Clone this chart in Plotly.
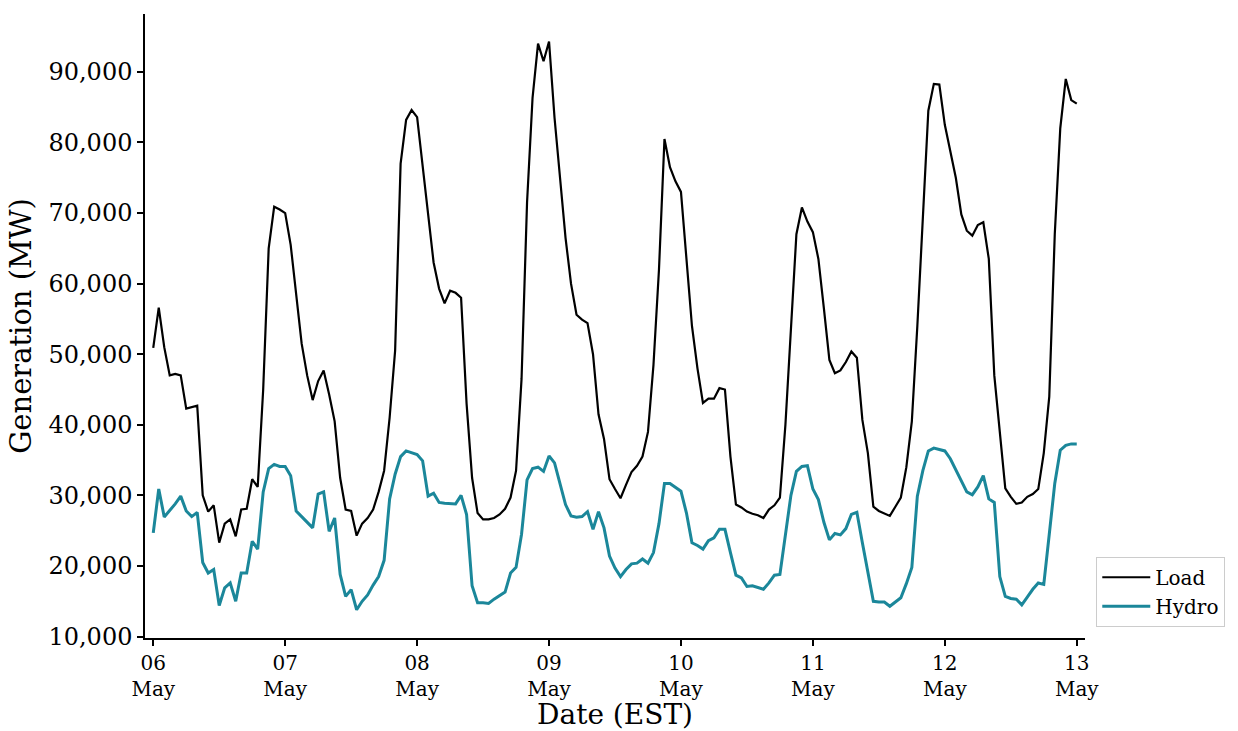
import pandas as pd
import plotly.graph_objects as go

start = "2023-05-06 00:00"
n_hours = 169

load_mw = [
    50900, 56600, 51000, 47000, 47200, 47000, 42300, 42500, 42700, 30000,
    27700, 28600, 23300, 26000, 26600, 24200, 28000, 28100, 32300, 31200,
    45000, 65000, 70900, 70500, 70000, 65500, 58500, 51500, 47000, 43500,
    46200, 47700, 44300, 40500, 32500, 28000, 27800, 24300, 26000, 26800,
    28000, 30500, 33500, 41000, 50500, 77000, 83200, 84600, 83600, 76800,
    70400, 63000, 59300, 57200, 59000, 58700, 58000, 43000, 32500, 27500,
    26600, 26600, 26800, 27300, 28100, 29700, 33500, 46500, 71500, 86300,
    94000, 91500, 94300, 83500, 75000, 66500, 60000, 55600, 54900, 54400,
    50000, 41500, 38000, 32300, 30900, 29600, 31500, 33300, 34200, 35500,
    39000, 48500, 62000, 80500, 76500, 74500, 73000, 63900, 54000, 48000,
    43100, 43700, 43700, 45200, 45000, 35500, 28700, 28300, 27700, 27400,
    27200, 26800, 28000, 28600, 29700, 40000, 54500, 67000, 70800, 68800,
    67300, 63500, 56500, 49200, 47300, 47700, 48900, 50400, 49500, 40700,
    36000, 28400, 27800, 27400, 27100, 28400, 29700, 34000, 40500, 54000,
    68600, 84500, 88300, 88200, 82500, 78800, 75000, 69800, 67500, 66800,
    68300, 68700, 63500, 47000, 38500, 31000, 29800, 28800, 29000, 29800,
    30200, 30900, 36000, 44000, 67000, 82000, 89000, 86000, 85500,
]

hydro_mw = [
    24700, 30900, 26950, 27800, 28800, 29900, 27800, 27000, 27600, 20500,
    19000, 19500, 14400, 16900, 17600, 15000, 19000, 19000, 23500, 22400,
    30500, 33800, 34400, 34100, 34100, 32800, 27800, 27000, 26200, 25400,
    30200, 30500, 24900, 26800, 18800, 15700, 16650, 13800, 15000, 15900,
    17300, 18500, 20800, 29500, 33000, 35500, 36300, 36000, 35800, 34900,
    29900, 30300, 29000, 28900, 28900, 28800, 30000, 27300, 17200, 14800,
    14800, 14700, 15300, 15800, 16300, 19000, 19800, 24500, 32200, 33800,
    34000, 33400, 35600, 34600, 31700, 28700, 27100, 26900, 27000, 27700,
    25200, 27700, 25400, 21400, 19700, 18500, 19500, 20300, 20400, 21000,
    20400, 21900, 26000, 31700, 31700, 31100, 30600, 27500, 23300, 22900,
    22400, 23600, 24000, 25200, 25200, 21900, 18700, 18300, 17100, 17200,
    16900, 16700, 17600, 18700, 18800, 24200, 30000, 33400, 34100, 34200,
    30900, 29400, 26200, 23700, 24600, 24400, 25300, 27300, 27600, 23300,
    19100, 15000, 14900, 14900, 14300, 14900, 15500, 17500, 19800, 29900,
    33500, 36300, 36700, 36500, 36300, 35200, 33700, 32100, 30500, 30100,
    31200, 32800, 29500, 29000, 18500, 15700, 15400, 15300, 14500, 15600,
    16700, 17600, 17400, 24500, 31700, 36400, 37100, 37300, 37300,
]

day_ticks = pd.date_range("2023-05-06", "2023-05-13", freq="D")
day_labels = [f"{d:%d}<br>{d:%b}" for d in day_ticks]
y_ticks = [10000, 20000, 30000, 40000, 50000, 60000, 70000, 80000, 90000]

times = pd.date_range(start, periods=n_hours, freq="h")

font_family = "DejaVu Serif"

fig = go.Figure()
fig.add_trace(go.Scatter(x=times, y=load_mw, mode="lines", name="Load",
                         line=dict(color="#000000", width=2.2)))
fig.add_trace(go.Scatter(x=times, y=hydro_mw, mode="lines", name="Hydro",
                         line=dict(color="#1b879a", width=3)))

fig.update_layout(
    width=1238, height=731,
    margin=dict(l=145, r=153, t=14, b=93),
    paper_bgcolor="white", plot_bgcolor="white",
    font=dict(family=font_family, size=20, color="black"),
    showlegend=True,
    legend=dict(x=1.012, y=0.018, xanchor="left", yanchor="bottom",
                bordercolor="#cccccc", borderwidth=1, bgcolor="white",
                font=dict(family=font_family, size=20, color="black"),
                itemwidth=48, tracegroupgap=0),
    xaxis=dict(
        range=[pd.Timestamp("2023-05-05 22:30"), pd.Timestamp("2023-05-13 01:30")],
        tickvals=day_ticks, ticktext=day_labels,
        showline=True, linecolor="black", linewidth=1.5,
        ticks="outside", ticklen=6, tickwidth=1.5, tickcolor="black",
        showgrid=False, zeroline=False, automargin=False,
        title=dict(text="Date (EST)", font=dict(family=font_family, size=28), standoff=7),
        tickfont=dict(family=font_family, size=20),
    ),
    yaxis=dict(
        range=[9800, 98200],
        tickvals=y_ticks, tickformat=",d",
        showline=True, linecolor="black", linewidth=1.5,
        ticks="outside", ticklen=6, tickwidth=1.5, tickcolor="black",
        showgrid=False, zeroline=False, automargin=False,
        title=dict(text="Generation (MW)", font=dict(family=font_family, size=29), standoff=8),
        tickfont=dict(family=font_family, size=24),
    ),
)

fig.write_html("out.html", config={"displayModeBar": False},
               post_script="document.body.style.margin='0';")
